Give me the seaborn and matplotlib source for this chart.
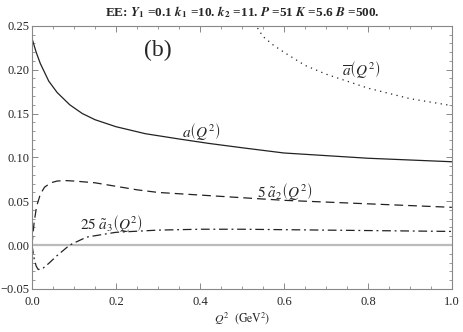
import numpy as np
import pandas as pd
import matplotlib
matplotlib.use("Agg")
import matplotlib.pyplot as plt
import seaborn as sns

# values
q2_a = [0.0, 0.01, 0.02, 0.04, 0.06, 0.09, 0.12, 0.15, 0.2, 0.27, 0.35, 0.42,
        0.5, 0.6, 0.7, 0.8, 0.9, 1.0]
a_vals = [0.236, 0.220, 0.207, 0.187, 0.174, 0.160, 0.150, 0.143, 0.135, 0.127,
          0.121, 0.116, 0.111, 0.105, 0.102, 0.099, 0.097, 0.095]

q2_abar = [0.53, 0.55, 0.575, 0.6, 0.65, 0.7, 0.75, 0.8, 0.85, 0.9, 0.95, 1.0]
abar_vals = [0.253, 0.238, 0.228, 0.220, 0.205, 0.195, 0.187, 0.179, 0.173,
             0.167, 0.163, 0.159]

q2_a2 = [0.0, 0.005, 0.011, 0.02, 0.03, 0.045, 0.06, 0.08, 0.1, 0.15, 0.2,
         0.25, 0.3, 0.4, 0.5, 0.6, 0.7, 0.8, 0.9, 1.0]
a2_vals = [0.0, 0.025, 0.044, 0.058, 0.066, 0.071, 0.073, 0.0735, 0.073, 0.071,
           0.067, 0.063, 0.060, 0.057, 0.054, 0.051, 0.049, 0.047, 0.045, 0.043]

q2_a3 = [0.0, 0.005, 0.01, 0.015, 0.025, 0.04, 0.06, 0.09, 0.13, 0.2, 0.3, 0.4,
         0.5, 0.6, 0.7, 0.8, 0.9, 1.0]
a3_vals = [0.0, -0.015, -0.024, -0.028, -0.027, -0.021, -0.012, 0.0, 0.009,
           0.0145, 0.017, 0.018, 0.018, 0.0175, 0.017, 0.0165, 0.016, 0.0155]

sns.set_theme(style="ticks")
plt.rcParams['font.family'] = ['Liberation Serif', 'DejaVu Serif']
plt.rcParams['mathtext.fontset'] = 'stix'

fig = plt.figure(figsize=(4.63, 3.32), dpi=100)
ax = fig.add_axes([0.069, 0.130, 0.907, 0.792])

ax.axhline(0, color='#bbbbbb', lw=1.6, zorder=1)

line_kw = dict(color='#222222', lw=0.9, ax=ax)
sns.lineplot(x=q2_a, y=a_vals, linestyle='-', **line_kw)
sns.lineplot(x=q2_abar, y=abar_vals, linestyle=(0, (1, 3.5)), **line_kw)
sns.lineplot(x=q2_a2, y=a2_vals, linestyle=(0, (7, 4)), **line_kw)
sns.lineplot(x=q2_a3, y=a3_vals, linestyle=(0, (7, 3, 1.5, 3)), **line_kw)

ax.set_xlim(0, 1.0)
ax.set_ylim(-0.05, 0.25)
ax.set_xticks(np.arange(0, 1.01, 0.2))
ax.set_xticks(np.arange(0, 1.001, 0.05), minor=True)
ax.set_yticks(np.arange(-0.05, 0.251, 0.05))
ax.set_yticks(np.arange(-0.05, 0.2501, 0.01), minor=True)
ax.xaxis.set_major_formatter(matplotlib.ticker.FormatStrFormatter('%.1f'))
ax.yaxis.set_major_formatter(matplotlib.ticker.FuncFormatter(
    lambda v, p: f"{v:.2f}".replace('-', '\u2212')))
ax.tick_params(which='both', direction='in', top=True, right=True,
               color='#888888', labelsize=9)
ax.tick_params(axis='x', which='major', pad=5)
ax.tick_params(axis='y', which='major', pad=2)
ax.tick_params(which='major', length=4, width=0.7)
ax.tick_params(which='minor', length=2, width=0.6)
for s in ax.spines.values():
    s.set_color('#888888')
    s.set_linewidth(0.8)

ax.set_xlabel(r"$Q^2$  $\left(\mathrm{GeV}^2\right)$", fontsize=8.5, labelpad=2)
ax.set_ylabel("")
ax.set_title(r"EE: $\mathbfit{Y}_\mathbf{1}$ =0.1 $\mathbfit{k}_\mathbf{1}$ =10. "
             r"$\mathbfit{k}_\mathbf{2}$ =11. $\mathbfit{P}$ =51 "
             r"$\mathbfit{K}$ =5.6 $\mathbfit{B}$ =500.",
             fontsize=9.5, fontweight='bold', pad=7)

ax.text(0.30, 0.222, "(b)", fontsize=17, ha='center', va='center')
ax.text(0.785, 0.200, r"$\overline{a}\left(Q^2\right)$", fontsize=11,
        ha='center', va='center')
ax.text(0.404, 0.129, r"$a\left(Q^2\right)$", fontsize=11, ha='center', va='center')
ax.text(0.602, 0.061, r"$5\;\tilde{a}_2\left(Q^2\right)$", fontsize=11,
        ha='center', va='center')
ax.text(0.19, 0.0248, r"$25\;\tilde{a}_3\left(Q^2\right)$", fontsize=11,
        ha='center', va='center')

fig.savefig("out.png", dpi=100)
